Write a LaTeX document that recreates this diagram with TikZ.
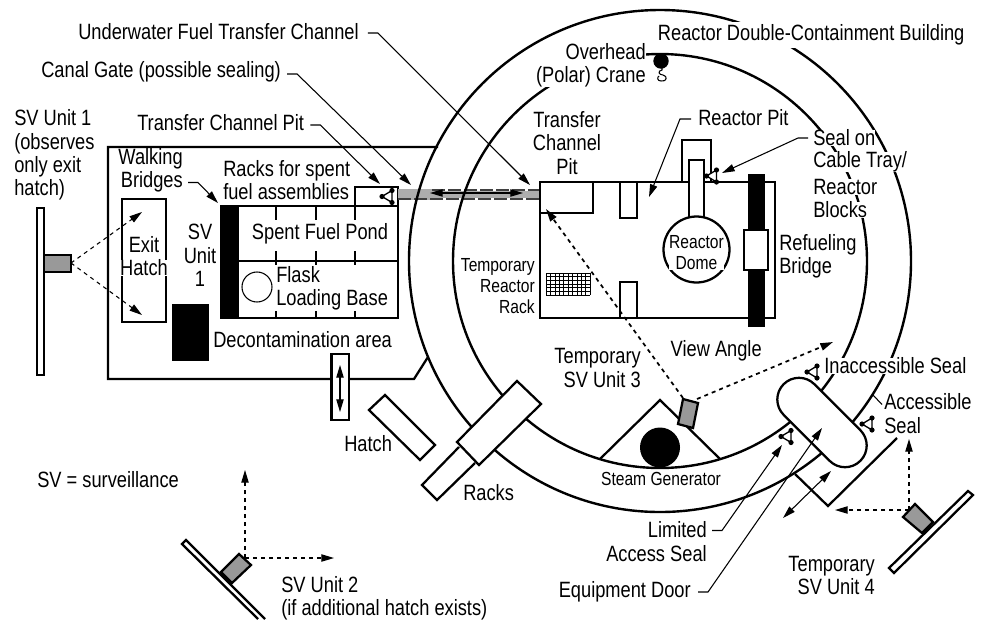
\documentclass[tikz,border=0pt]{standalone}
\usepackage{fontspec}
\setmainfont{Liberation Sans}[FakeStretch=0.825]
\usepackage{xcolor}
\usepackage{tikz}
\usetikzlibrary{arrows.meta, calc}
\definecolor{camGray}{gray}{0.6}
\definecolor{chanGray}{gray}{0.68}
\tikzset{
	wallLine/.style={line width=1.7pt},
	thinLine/.style={line width=0.8pt},
	leaderLine/.style={line width=0.8pt, -{Triangle[length=9.5pt,width=5.5pt]}},
	bothLine/.style={line width=0.8pt, {Triangle[length=9.5pt,width=5.5pt]}-{Triangle[length=9.5pt,width=5.5pt]}},
	viewLine/.style={line width=0.8pt, dash pattern=on 3pt off 3pt, -{Triangle[length=9.5pt,width=5.5pt]}},
	heavyView/.style={line width=1.3pt, dash pattern=on 3pt off 3pt, -{Triangle[length=9.5pt,width=5.5pt]}},
	txt/.style={fill=white, inner sep=0pt, font=\fontsize{16.6}{17.5}\selectfont},
	txtSmall/.style={txt, font=\fontsize{14.2}{15.8}\selectfont},
	sealMark/.pic={
		\draw[line width=1pt, fill=white] (-10,0) -- (0,-6) -- (0,6) -- cycle;
		\fill (-10,0) circle (2.6);
		\fill (0,-6) circle (2.6);
		\fill (0,6) circle (2.6);
	}
}

\begin{document}
\begin{tikzpicture}[x=0.75pt, y=-0.75pt]
	\useasboundingbox (0,0) rectangle (982,619);

	\coordinate (O) at (660,261);
	\coordinate (doorA) at (799,399.5);
	\coordinate (doorB) at (845,445.5);

	% fuel building
	\draw[wallLine] (438,147) -- (108,147) -- (108,379) -- (414,379) -- (428,357);
	\draw[wallLine] (122,199) rectangle (166,322);
	\fill (172,304) rectangle (209,361);
	\draw[wallLine] (221,206) rectangle (398,318);
	\draw[wallLine] (239,261) -- (398,261);
	\fill (221,206) rectangle (239,318);
	\foreach \tx in {276,316,355} {
		\draw[wallLine] (\tx,206) -- (\tx,220);
		\draw[wallLine] (\tx,251) -- (\tx,265);
		\draw[wallLine] (\tx,311) -- (\tx,318);
	}
	\draw[thinLine] (257,287) circle (15);
	\draw[wallLine, fill=white] (355,187) rectangle (398,206);

	% channel
	\fill[chanGray] (398,189) rectangle (540,200);
	\draw[white, line width=1pt] (432,190) -- (540,190);
	\draw[white, line width=1pt] (432,199) -- (540,199);
	\draw[line width=0.8pt, black!75, dash pattern=on 10pt off 2pt] (432,190) -- (540,190);
	\draw[line width=1.1pt, black!75, dash pattern=on 10pt off 2pt] (398,199) -- (540,199);

	% containment
	\draw[line width=1.8pt] (O) circle (251);
	\draw[line width=1.8pt] (O) circle (207);

	\coordinate (chanL) at (430,193);
	\coordinate (chanR) at (523,193);
	\draw[bothLine] (chanL) -- (chanR);

	% reactor block
	\draw[wallLine] (540,182) rectangle (775,318);
	\draw[wallLine] (540,182) rectangle (593,213);
	\draw[wallLine, fill=white] (620,182) rectangle (637,218);
	\draw[wallLine, fill=white] (620,282) rectangle (637,318);
	\draw[wallLine] (682,182) -- (682,140) -- (711,140) -- (711,182);
	\draw[wallLine, fill=white] (689,220) -- (689,160) -- (704,160) -- (704,220);
	\draw[wallLine, fill=white] (696.5,249.5) circle (33);
	\fill (748,174) rectangle (765,327);
	\draw[wallLine, fill=white] (744,230) rectangle (768,270);
	\foreach \gx in {0,...,10} {
		\draw[line width=0.4pt] ($(546,273)+(\gx*4.4,0)$) -- ($(546,295)+(\gx*4.4,0)$);
	}
	\foreach \gy in {0,...,6} {
		\draw[line width=0.4pt] ($(546,273)+(0,\gy*3.67)$) -- ($(590,273)+(0,\gy*3.67)$);
	}

	% crane
	\fill (661,61) circle (7.7);
	\draw[thinLine] (662,68) -- (662,70) .. controls (657,71) and (659,75) .. (663,75) .. controls (668,76) and (667,82) .. (661,81) .. controls (657,81) and (657,77) .. (659,76);

	% steam generator
	\draw[wallLine] (600,459) -- (660,400) -- (720,459);
	\fill (660,447.5) circle (20);

	% racks and hatches
	\draw[wallLine, fill=white] (459,447) -- (422,485) -- (437,500) -- (475,463);
	\draw[wallLine, fill=white] (517,381) -- (541,404) -- (479,465) -- (457,442) -- cycle;
	\draw[wallLine, fill=white] (385,395) -- (435,445) -- (420,460) -- (369,410) -- cycle;
	\draw[wallLine, fill=white] (331.5,354) rectangle (349,420);
	\coordinate (hatchT) at (340,365);
	\coordinate (hatchB) at (340,412);
	\draw[bothLine] (hatchT) -- (hatchB);

	% equipment door
	\draw[wallLine] (795,474) -- (828,506) -- (897,438);
	\draw[wallLine, fill=white] ($(doorA)+(-45:21.7)$) -- ($(doorB)+(-45:21.7)$) arc (-45:135:21.7) -- ($(doorA)+(135:21.7)$) arc (135:315:21.7) -- cycle;
	\coordinate (doorOut) at (783,518);
	\coordinate (doorIn) at (831,471);
	\draw[bothLine] (doorOut) -- (doorIn);

	% seals
	\pic at (392,196.5) {sealMark};
	\pic at (716.5,176) {sealMark};
	\pic at (817,372) {sealMark};
	\pic at (872,424) {sealMark};
	\pic at (791,436.5) {sealMark};

	% cameras
	\draw[wallLine, fill=white] (37,208) rectangle (44,375);
	\draw[wallLine, fill=camGray] (44,255) rectangle (71,272);
	\coordinate (camA) at (71,263);
	\coordinate (viewA1) at (142,212);
	\coordinate (viewA2) at (142,315);
	\draw[viewLine] (camA) -- (viewA1);
	\draw[viewLine] (camA) -- (viewA2);

	\draw[wallLine, fill=white] (258,619) -- (182,544) -- (186,540) -- (265,619);
	\draw[wallLine, fill=camGray] (239,554) -- (251,565) -- (232,583) -- (221,572) -- cycle;
	\coordinate (camB) at (245,558);
	\coordinate (viewB1) at (245,470);
	\coordinate (viewB2) at (334,558);
	\draw[viewLine] (camB) -- (viewB1);
	\draw[viewLine] (camB) -- (viewB2);

	\draw[wallLine, fill=camGray] (683,399) -- (698,403) -- (693,428) -- (678,424) -- cycle;
	\coordinate (viewC1) at (546,209);
	\coordinate (viewC2) at (833,342);
	\draw[heavyView] (683,398) -- (viewC1);
	\draw[heavyView] (697,399) -- (viewC2);

	\draw[wallLine, fill=white] (968,491) -- (973,495) -- (894,573) -- (889,568) -- cycle;
	\draw[wallLine, fill=camGray] (915,504) -- (933,522) -- (922,533) -- (903,517) -- cycle;
	\coordinate (camD) at (909,510);
	\coordinate (viewD1) at (909,439);
	\coordinate (viewD2) at (835,510);
	\draw[viewLine] (camD) -- (viewD1);
	\draw[viewLine] (camD) -- (viewD2);

	% labels
	\node[txt, anchor=west] (lblChannel) at (78,32) {Underwater Fuel Transfer Channel};
	\node[txt, anchor=west] (lblGate) at (41,72) {Canal Gate (possible sealing)};
	\node[txt, anchor=west] (lblPitA) at (137,123) {Transfer Channel Pit};
	\node[txt, anchor=west, align=left] (lblUnitA) at (14,155) {SV Unit 1\\(observes\\only exit\\hatch)};
	\node[txt, anchor=east, align=right] (lblWalk) at (183,170.5) {Walking\\Bridges};
	\node[txt, anchor=west, align=left] (lblRacks) at (223,180) {Racks for spent\\fuel assemblies};
	\node[txt] (lblExit) at (144,245) {Exit};
	\node[txt] (lblExitB) at (144,268) {Hatch};
	\node[txt, align=center] (lblUnitB) at (200,255.5) {SV\\Unit\\1};
	\node[txt] (lblPond) at (320,234) {Spent Fuel Pond};
	\node[txt, anchor=west, align=left] (lblFlask) at (276,288) {Flask\\Loading Base};
	\node[txt, anchor=west] (lblDecon) at (213,340) {Decontamination area};
	\node[txt, anchor=west] (lblSv) at (37,480) {SV = surveillance};
	\node[txt, anchor=west, align=left] (lblUnitC) at (281,598) {SV Unit 2\\(if additional hatch exists)};
	\node[txt, anchor=west] (lblHatch) at (344,444) {Hatch};
	\node[txt, anchor=west] (lblRk) at (463,493) {Racks};
	\node[txt, anchor=east, align=right] (lblUnitD) at (641,368) {Temporary\\SV Unit 3};
	\node[txt, anchor=east] (lblView) at (762,351) {View Angle};
	\node[txt, anchor=west] (lblInacc) at (824,366) {Inaccessible Seal};
	\node[txt, anchor=west, align=left] (lblAcc) at (884,413.5) {Accessible\\Seal};
	\node[txt, anchor=east, align=right] (lblLim) at (707,541.5) {Limited\\Access Seal};
	\node[txt, anchor=east] (lblDoor) at (691,592) {Equipment Door};
	\node[txt, anchor=east, align=right] (lblUnitE) at (875,575.5) {Temporary\\SV Unit 4};
	\node[txt, anchor=west, inner sep=2pt] (lblBuilding) at (655,35) {Reactor Double-Containment Building};
	\node[txt, anchor=east, align=right] (lblCrane) at (646,65.5) {Overhead\\(Polar) Crane};
	\node[txt, align=center] (lblPitB) at (567,143) {Transfer\\Channel\\Pit};
	\node[txt, anchor=west] (lblPit) at (698,118) {Reactor Pit};
	\node[txt, anchor=west] (lblCable) at (813,138) {Seal on};
	\node[txt, anchor=west] (lblCableB) at (813,162) {Cable Tray/};
	\node[txt, anchor=west] (lblCableC) at (813,187) {Reactor};
	\node[txt, anchor=west] (lblCableD) at (813,210) {Blocks};
	\node[txtSmall, align=center] (lblDome) at (696.5,253) {Reactor\\Dome};
	\node[txt, anchor=west, align=left] (lblBridge) at (779,256.5) {Refueling\\Bridge};
	\node[txtSmall, anchor=east, align=right] (lblTemp) at (535,286) {Temporary\\Reactor\\Rack};
	\node[txtSmall] (lblSteam) at (661,479) {Steam Generator};

	% leaders
	\coordinate (tipChannel) at (530,185);
	\coordinate (tipGate) at (411,185);
	\coordinate (tipPit) at (380,184);
	\coordinate (tipWalk) at (218,203);
	\coordinate (tipPitR) at (649,197);
	\coordinate (tipCable) at (722,173);
	\coordinate (tipLim) at (782,445);
	\coordinate (tipDoor) at (822,428);
	\coordinate (tickAcc) at (873,395);
	\draw[leaderLine] ($(lblChannel.east)+(9,1)$) -- ++(10,0) -- (tipChannel);
	\draw[leaderLine] ($(lblGate.east)+(6,2)$) -- ++(10,0) -- (tipGate);
	\draw[leaderLine] ($(lblPitA.east)+(6,2)$) -- ++(10,0) -- (tipPit);
	\draw[leaderLine] ($(lblWalk.east)+(5,12)$) -- ++(10,0) -- (tipWalk);
	\draw[leaderLine] ($(lblPit.west)+(-7,1)$) -- ++(-11,0) -- (tipPitR);
	\draw[leaderLine] ($(lblCable.west)+(-5,0)$) -- ++(-10,0) -- (tipCable);
	\draw[leaderLine] ($(lblLim.east)+(5,-11)$) -- ++(10,0) -- (tipLim);
	\draw[leaderLine] ($(lblDoor.east)+(7,0)$) -- ++(10,0) -- (tipDoor);
	\draw[thinLine] (lblAcc.west) ++(-2,-9) -- (tickAcc);
	\draw[thinLine] (lblCrane.east) ++(3,-12) -- ++(13,0);
\end{tikzpicture}
\end{document}
